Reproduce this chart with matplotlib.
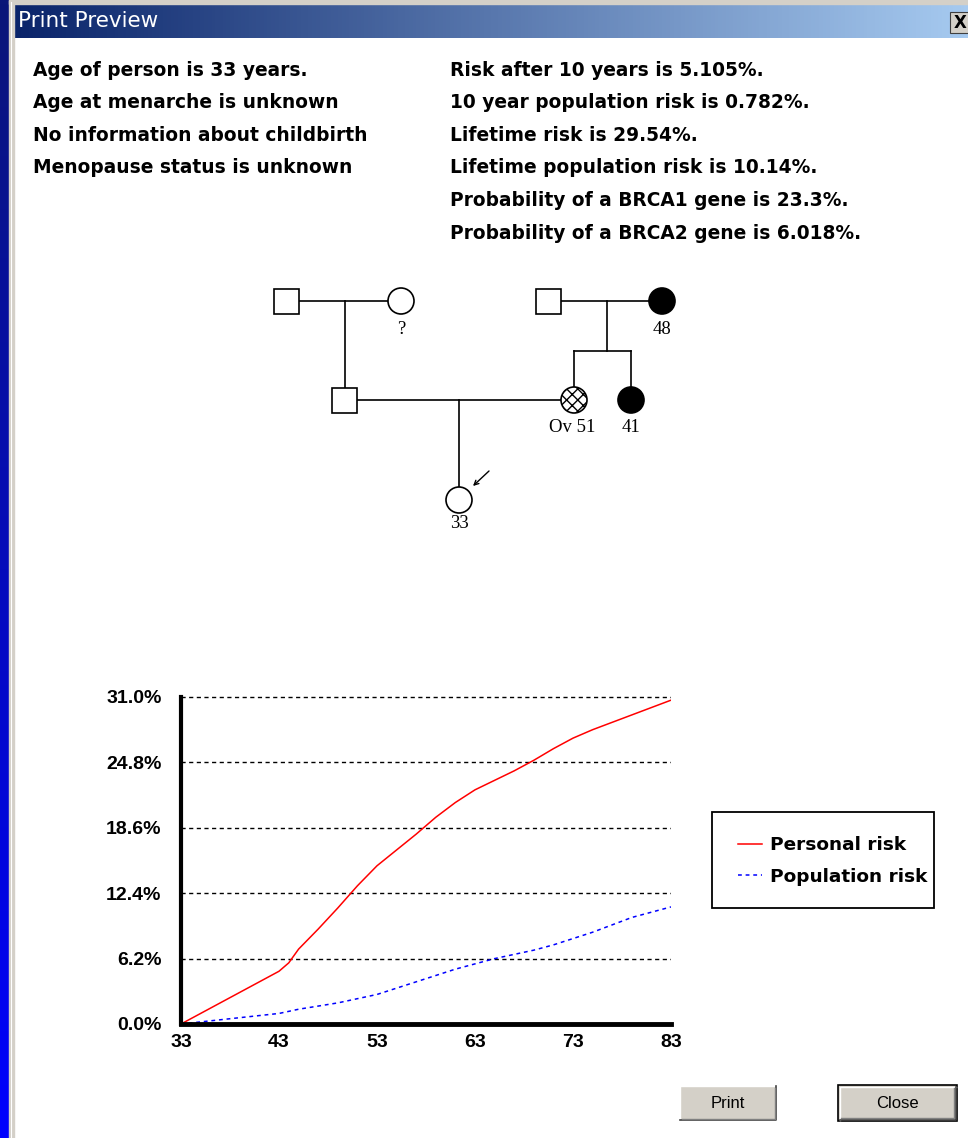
import numpy as np
import matplotlib.pyplot as plt
from matplotlib.patches import Rectangle, Circle
from matplotlib.lines import Line2D
from matplotlib.colors import LinearSegmentedColormap

W, H = 968, 1138

# risk curves (age in years, risk in %)
ages = [33, 35, 37, 39, 41, 43, 44, 45, 47, 49, 51, 53, 55, 57, 59, 61, 63, 65,
        67, 69, 71, 73, 75, 77, 79, 81, 83]
personal_risk = [0.0, 1.0, 2.0, 3.0, 4.0, 5.0, 5.8, 7.1, 9.0, 11.0, 13.1, 15.0,
                 16.5, 18.0, 19.6, 21.0, 22.2, 23.1, 24.0, 25.0, 26.1, 27.1,
                 27.9, 28.6, 29.3, 30.0, 30.7]
population_risk = [0.0, 0.2, 0.4, 0.6, 0.8, 1.0, 1.2, 1.4, 1.7, 2.0, 2.4, 2.8,
                   3.4, 4.0, 4.6, 5.2, 5.7, 6.2, 6.6, 7.0, 7.5, 8.1, 8.7, 9.4,
                   10.1, 10.6, 11.1]
y_ticks = [0.0, 6.2, 12.4, 18.6, 24.8, 31.0]
x_ticks = [33, 43, 53, 63, 73, 83]
series_names = ["Personal risk", "Population risk"]

left_lines = ["Age of person is 33 years.",
              "Age at menarche is unknown",
              "No information about childbirth",
              "Menopause status is unknown"]
right_lines = ["Risk after 10 years is 5.105%.",
               "10 year population risk is 0.782%.",
               "Lifetime risk is 29.54%.",
               "Lifetime population risk is 10.14%.",
               "Probability of a BRCA1 gene is 23.3%.",
               "Probability of a BRCA2 gene is 6.018%."]

fig = plt.figure(figsize=(W / 100, H / 100), dpi=100, facecolor="white")
bg = fig.add_axes([0, 0, 1, 1])
bg.axis("off")

# window chrome
grad_v = np.linspace(0, 1, 256).reshape(-1, 1)
bg.imshow(grad_v, cmap=LinearSegmentedColormap.from_list("d", ["#0a1678", "#0000ff"]),
          extent=[0, 9, H, 0], aspect="auto")
grad_h = np.linspace(0, 1, 256).reshape(1, -1)
bg.imshow(grad_h, cmap=LinearSegmentedColormap.from_list("t", ["#0a246a", "#a6caf0"]),
          extent=[14, W, 38, 4], aspect="auto")
bg.add_patch(Rectangle((9, 0), W - 9, 4, color="#d4d0c8"))
bg.add_patch(Rectangle((9, 0), 5, H, color="#d4d0c8"))
bg.plot([11, 11], [2, H], color="white", lw=0.8)
bg.text(18, 21, "Print Preview", color="white", fontsize=15.5, va="center", ha="left")
bg.add_patch(Rectangle((950, 12), 20, 21, fc="#d4d0c8", ec="#404040", lw=0.8))
bg.text(960, 23, "X", fontsize=12, fontweight="bold", va="center", ha="center")

# summary text
for i, s in enumerate(left_lines):
    bg.text(33, 70 + i * 32.6, s, fontsize=13.4, fontweight="bold", va="center", ha="left")
for i, s in enumerate(right_lines):
    bg.text(450, 70 + i * 32.6, s, fontsize=13.4, fontweight="bold", va="center", ha="left")

# pedigree
lw = 1.2
def square(cx, cy):
    bg.add_patch(Rectangle((cx - 12.5, cy - 12.5), 25, 25, fc="white", ec="black", lw=lw, zorder=3))

def circle(cx, cy, fill="white", hatch=None):
    bg.add_patch(Circle((cx, cy), 13, fc=fill, ec="black", lw=lw, hatch=hatch, zorder=3))

def seg(xs, ys):
    bg.plot(xs, ys, color="black", lw=lw, zorder=2)

seg([286, 401], [301, 301])
seg([345, 345], [301, 400])
seg([548, 662], [301, 301])
seg([607, 607], [301, 351])
seg([574, 631], [351, 351])
seg([574, 574], [351, 400])
seg([631, 631], [351, 400])
seg([344, 574], [400, 400])
seg([459, 459], [400, 500])

plt.rcParams["hatch.linewidth"] = 1.0
square(286, 301)
circle(401, 301)
square(548, 301)
circle(662, 301, fill="black")
square(344, 400)
circle(574, 400, hatch="xxx")
circle(631, 400, fill="black")
circle(459, 500)
bg.annotate("", xy=(473, 486), xytext=(489, 471),
            arrowprops=dict(arrowstyle="->", lw=1, color="black", shrinkA=0, shrinkB=0,
                            mutation_scale=8))

serif = dict(family="Liberation Serif", fontsize=13.5, ha="center", va="center")
bg.text(401, 329, "?", **serif)
bg.text(662, 329, "48", **serif)
bg.text(572, 427, "Ov 51", **serif)
bg.text(631, 427, "41", **serif)
bg.text(459, 523, "33", **serif)

# buttons
def button(x0, y0, x1, y1, label, default=False):
    bg.add_patch(Rectangle((x0, y0), x1 - x0, y1 - y0, fc="#d4d0c8", ec="none"))
    if default:
        bg.add_patch(Rectangle((x0, y0), x1 - x0, y1 - y0, fc="none", ec="black", lw=1.2))
        x0, y0, x1, y1 = x0 + 1.5, y0 + 1.5, x1 - 1.5, y1 - 1.5
    bg.plot([x0, x0, x1], [y1, y0, y0], color="white", lw=1)
    bg.plot([x0, x1, x1], [y1, y1, y0], color="#404040", lw=1.2)
    bg.plot([x0 + 1.5, x1 - 1.5, x1 - 1.5], [y1 - 1.5, y1 - 1.5, y0 + 1.5], color="#808080", lw=1)
    bg.text((x0 + x1) / 2, (y0 + y1) / 2 + 1, label, family="Liberation Sans",
            fontsize=12, ha="center", va="center")

button(680, 1086, 776, 1120, "Print")
button(838, 1085, 957, 1121, "Close", default=True)

# legend frame
bg.add_patch(Rectangle((712, 812), 222, 96, fc="white", ec="black", lw=1.3))

bg.set_xlim(0, W)
bg.set_ylim(H, 0)

# risk chart
y_top = 31.3
px_per = (1024 - 697) / 31.0
top_px = 1024 - y_top * px_per
ax = fig.add_axes([181 / W, 1 - 1024 / H, (671 - 181) / W, (1024 - top_px) / H])
ax.patch.set_alpha(0)
ax.plot(ages, personal_risk, color="#ff0000", lw=1.1, label=series_names[0])
ax.plot(ages, population_risk, color="#0000ff", lw=1.1, dashes=(2.5, 2.5), label=series_names[1])
ax.set_xlim(33, 83)
ax.set_ylim(0, y_top)
ax.set_xticks(x_ticks)
ax.set_yticks(y_ticks)
ax.set_yticklabels([f"{v:.1f}%" for v in y_ticks])
ax.yaxis.grid(True, color="black", linestyle=(0, (3, 2.5)), linewidth=1)
ax.set_axisbelow(True)
for side in ["top", "right"]:
    ax.spines[side].set_visible(False)
ax.spines["left"].set_linewidth(3)
ax.spines["bottom"].set_linewidth(3.5)
ax.spines["left"].set_bounds(0, 31.0)
ax.tick_params(length=0)
ax.tick_params(axis="y", pad=14)
ax.tick_params(axis="x", pad=7)
for t in ax.get_xticklabels() + ax.get_yticklabels():
    t.set_fontfamily("Liberation Sans")
    t.set_fontweight("bold")
    t.set_fontsize(14)

handles = [Line2D([], [], color="#ff0000", lw=1.1),
           Line2D([], [], color="#0000ff", lw=1.1, dashes=(2.5, 2.5))]
leg = fig.legend(handles, series_names, loc="center left",
                 bbox_to_anchor=(738 / W, 1 - 861 / H), frameon=False,
                 prop=dict(weight="bold", size=13.3),
                 handlelength=1.3, handletextpad=0.43, borderpad=0, labelspacing=0.72,
                 borderaxespad=0)

fig.savefig("out.png", dpi=100, facecolor="white")
